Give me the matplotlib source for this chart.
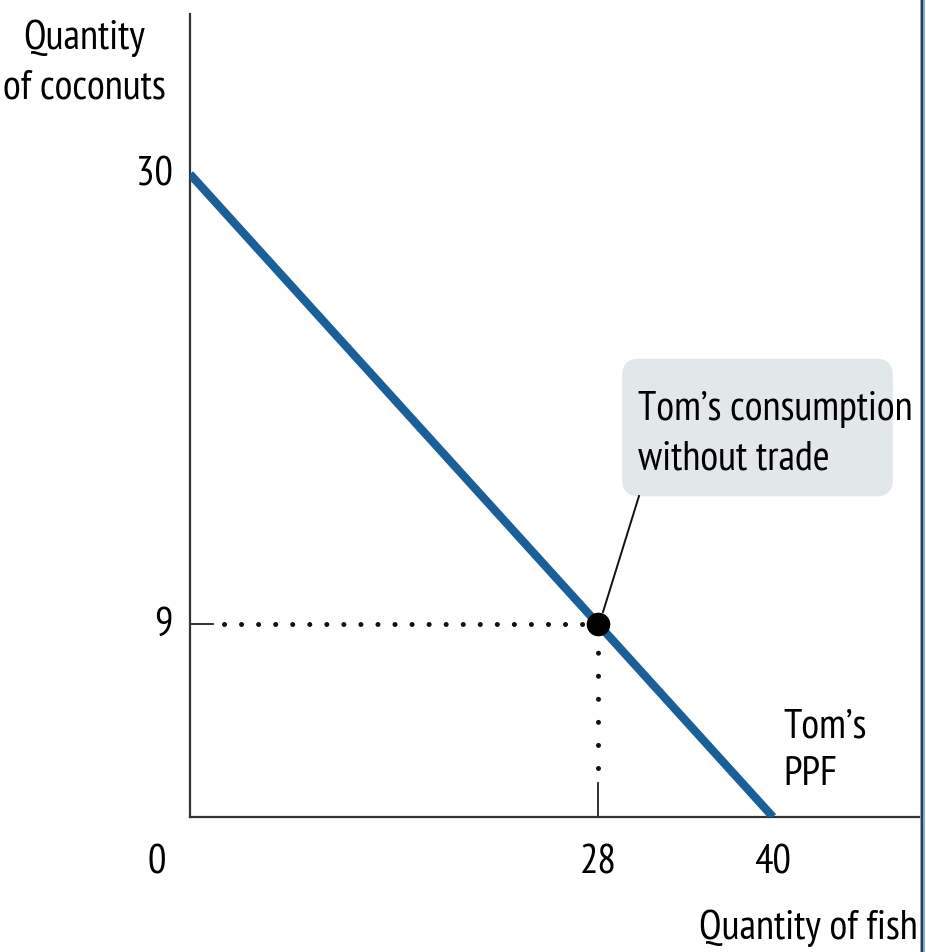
import matplotlib
matplotlib.use("Agg")
import matplotlib.pyplot as plt
from matplotlib.patches import FancyBboxPatch
from matplotlib.lines import Line2D

# PPF endpoints and consumption point
ppf_fish = [0, 40]
ppf_coconuts = [30, 0]
cons_fish = 28
cons_coconuts = 9
xticks = [28, 40]
yticks = [30, 9]

W, H = 926, 953
plt.rcParams['font.family'] = ['PT Sans Narrow', 'DejaVu Sans']

fig = plt.figure(figsize=(W / 100, H / 100), dpi=100)
ax = fig.add_axes([190 / W, (H - 818) / H, 730 / W, 803 / H])

# pixel -> figure fraction
def fx(x):
    return x / W

def fy(y):
    return (H - y) / H

ax.set_xlim(0, 730 / 14.575)
ax.set_ylim(0, 803 / 21.43)

for s in ['top', 'right']:
    ax.spines[s].set_visible(False)
for s in ['left', 'bottom']:
    ax.spines[s].set_linewidth(1.6)
    ax.spines[s].set_color('#333333')
ax.set_xticks([])
ax.set_yticks([])

ax.plot(ppf_fish, ppf_coconuts, color='#1b5f98', lw=6, solid_capstyle='butt', zorder=3)

# ticks + dotted guides
ax.plot([0, 1.6], [cons_coconuts] * 2, color='#222222', lw=1.3)
ax.plot([2.3, cons_fish - 0.8], [cons_coconuts] * 2, color='#111111', lw=3.6,
        dashes=(0.01, 3.4), dash_capstyle='round')
ax.plot([cons_fish] * 2, [0, 1.6], color='#222222', lw=1.3)
ax.plot([cons_fish] * 2, [2.3, cons_coconuts - 0.8], color='#111111', lw=3.6,
        dashes=(0.01, 4.6), dash_capstyle='round')

ax.plot([cons_fish], [cons_coconuts], marker='o', ms=16, color='black', zorder=5)

fs = 29.5
fig.text(fx(84), fy(38), 'Quantity', ha='center', va='center', fontsize=fs)
fig.text(fx(84), fy(88), 'of coconuts', ha='center', va='center', fontsize=fs)
fig.text(fx(918), fy(928), 'Quantity of fish', ha='right', va='center', fontsize=fs)

for v in yticks:
    ax.text(-1.2, v, str(v), ha='right', va='center', fontsize=fs)
ax.text(-2.3, -2.1, '0', ha='center', va='center', fontsize=fs)
for v in xticks:
    ax.text(v, -2.1, str(v), ha='center', va='center', fontsize=fs)

ax.text(40.7, 3.15, "Tom\u2019s\nPPF", ha='left', va='center', fontsize=fs,
        linespacing=1.35)

# annotation box
box = FancyBboxPatch((fx(636), fy(483)), fx(243), fy(374) - fy(483),
                     boxstyle='round,pad=0.015,rounding_size=0.018',
                     transform=fig.transFigure, facecolor='#e2e7e9',
                     edgecolor='none', zorder=1)
fig.patches.append(box)
fig.text(fx(638), fy(434), "Tom\u2019s consumption\nwithout trade", ha='left',
         va='center', fontsize=fs, linespacing=1.42, zorder=2)
fig.add_artist(Line2D([fx(603), fx(639)], [fy(613), fy(497)], color='#111111',
                      lw=1.4))

# right frame edge
fig.add_artist(Line2D([fx(922), fx(922)], [0, 1], color='#7fa7c8', lw=3.5))
fig.add_artist(Line2D([fx(921.5), fx(921.5)], [0, 1], color='#1e2a36', lw=1.2))

fig.savefig('out.png', dpi=100)
